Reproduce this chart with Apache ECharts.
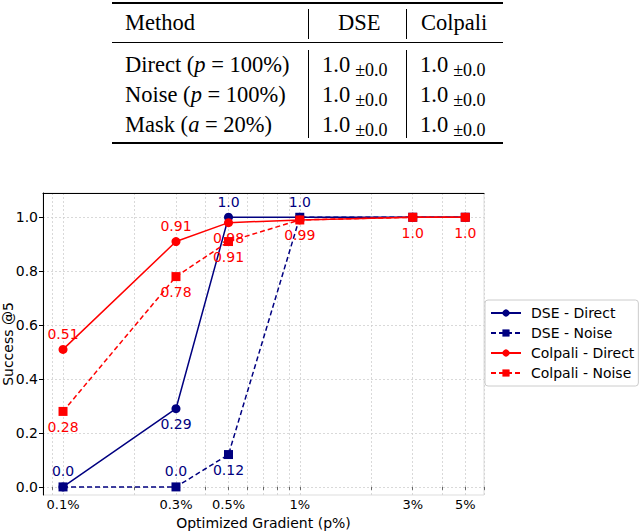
<!DOCTYPE html>
<html><head><meta charset="utf-8">
<script src="https://cdn.jsdelivr.net/npm/echarts@6/dist/echarts.min.js"></script>
<style>
html,body{margin:0;padding:0;background:#fff;}
#wrap{position:relative;width:640px;height:531px;overflow:hidden;}
#chart{position:absolute;left:0;top:0;width:640px;height:531px;}
.t{position:absolute;font-family:'Liberation Serif','DejaVu Serif',serif;font-size:22.5px;color:#000;white-space:nowrap;line-height:22px;}
.s{font-size:18px;position:relative;top:4px;margin-left:5px;}
.r{position:absolute;background:#000;}
</style>
</head><body>
<div id="wrap">
<div id="chart"></div>
<div class="r" style="left:112px;top:2px;width:391px;height:2px"></div>
<div class="r" style="left:112px;top:42px;width:391px;height:1px"></div>
<div class="r" style="left:112px;top:142px;width:391px;height:2px"></div>
<div class="r" style="left:308px;top:9px;width:1px;height:30px"></div>
<div class="r" style="left:406px;top:9px;width:1px;height:30px"></div>
<div class="r" style="left:308px;top:50px;width:1px;height:88px"></div>
<div class="r" style="left:406px;top:50px;width:1px;height:88px"></div>
<div class="t" style="left:125px;top:12px">Method</div>
<div class="t" style="left:338px;top:12px">DSE</div>
<div class="t" style="left:421px;top:12px">Colpali</div>
<div class="t" style="left:125px;top:54px">Direct (<i>p</i> = 100%)</div>
<div class="t" style="left:125px;top:84px">Noise (<i>p</i> = 100%)</div>
<div class="t" style="left:125px;top:114px">Mask (<i>a</i> = 20%)</div>
<div class="t" style="left:322px;top:54px">1.0<span class="s">±0.0</span></div>
<div class="t" style="left:420px;top:54px">1.0<span class="s">±0.0</span></div>
<div class="t" style="left:322px;top:84px">1.0<span class="s">±0.0</span></div>
<div class="t" style="left:420px;top:84px">1.0<span class="s">±0.0</span></div>
<div class="t" style="left:322px;top:114px">1.0<span class="s">±0.0</span></div>
<div class="t" style="left:420px;top:114px">1.0<span class="s">±0.0</span></div>
</div>
<script>
// ---- data ----
const xValues = [0.1, 0.3, 0.5, 1, 3, 5];
const xTickLabels = ['0.1%', '0.3%', '0.5%', '1%', '3%', '5%'];
const xGridValues = [0.09, 0.1, 0.2, 0.3, 0.4, 0.5, 0.6, 0.7, 0.8, 0.9, 1, 2, 3, 4, 5, 6];
const yTicks = [0, 0.2, 0.4, 0.6, 0.8, 1.0];
const seriesNames = ['DSE - Direct', 'DSE - Noise', 'Colpali - Direct', 'Colpali - Noise'];
const dseDirect = [0.0, 0.29, 1.0, 1.0, 1.0, 1.0];
const dseNoise = [0.0, 0.0, 0.12, 1.0, 1.0, 1.0];
const colpaliDirect = [0.51, 0.91, 0.98, 0.99, 1.0, 1.0];
const colpaliNoise = [0.28, 0.78, 0.91, 0.99, 1.0, 1.0];

// ---- style config ----
const NAVY = '#000080', RED = '#ff0000';
const FONT = 'DejaVu Sans';
const FS = 14;
const labelPlacement = {
  dseDirect: ['top', 'bottom', 'top', 'top', null, null],
  dseNoise: [null, 'top', 'bottom', null, null, null],
  colpaliDirect: ['top', 'top', 'bottom', null, null, null],
  colpaliNoise: ['bottom', 'bottom', 'bottom', 'bottom', 'bottom', 'bottom']
};
function fmt(v) { return (v % 1 === 0) ? v.toFixed(1) : String(v); }
function xLabel(v) {
  let best = 0, bd = Infinity;
  xValues.forEach((t, i) => { const d = Math.abs(Math.log(v) - Math.log(t)); if (d < bd) { bd = d; best = i; } });
  return xTickLabels[best];
}
function mk(name, vals, labs, color, symbol, dashed, z) {
  return {
    name, type: 'line', xAxisIndex: 0, yAxisIndex: 0, z,
    data: vals.map((v, i) => ({
      value: [xValues[i], v],
      label: labs[i] ? { show: true, position: labs[i] } : { show: false }
    })),
    symbol, symbolSize: 9, showSymbol: true,
    lineStyle: { color, width: 1.5, type: dashed ? [5, 3] : 'solid' },
    itemStyle: { color },
    label: { color, fontSize: FS, fontFamily: FONT, distance: 4, formatter: p => fmt(p.value[1]) },
    emphasis: { disabled: true },
    animation: false
  };
}

const chart = echarts.init(document.getElementById('chart'), null, { renderer: 'svg' });
chart.setOption({
  animation: false,
  textStyle: { fontFamily: FONT },
  grid: { left: 43, right: 156, top: 193, bottom: 36, outerBoundsMode: 'none', containLabel: false,
          show: true, borderColor: '#dddddd', borderWidth: 1, backgroundColor: 'transparent' },
  legend: {
    data: seriesNames, orient: 'vertical', left: 485, top: 300,
    itemWidth: 30, itemHeight: 9, itemGap: 6,
    padding: [6, 4, 6, 5],
    borderColor: '#cccccc', borderWidth: 1, borderRadius: 3,
    textStyle: { fontSize: FS, fontFamily: FONT, color: '#000', padding: [0, 0, 0, 5] }
  },
  xAxis: [{
    type: 'log', position: 'bottom', min: 0.0823, max: 6.0,
    name: 'Optimized Gradient (p%)', nameLocation: 'middle', nameGap: 21, nameMoveOverlap: false,
    nameTextStyle: { fontSize: FS, fontFamily: FONT, color: '#000' },
    axisLine: { show: false },
    axisTick: { show: true, customValues: xGridValues, length: 3, lineStyle: { color: '#666' } },
    minorTick: { show: false },
    axisLabel: { show: true, customValues: xValues, formatter: xLabel, fontSize: 13, fontFamily: FONT, color: '#000', margin: 3 },
    splitLine: { show: true, lineStyle: { color: '#cfcfcf', type: [2, 2], width: 0.8 } }
  }, {
    type: 'log', position: 'top', min: 0.0823, max: 6.0,
    axisLine: { show: true, lineStyle: { color: '#000', width: 1 } },
    axisTick: { show: false }, axisLabel: { show: false }, splitLine: { show: false }
  }],
  yAxis: {
    type: 'value', min: -0.03, max: 1.09,
    name: 'Success @5', nameLocation: 'middle', nameRotate: 90, nameGap: 28, nameMoveOverlap: false,
    nameTextStyle: { fontSize: FS, fontFamily: FONT, color: '#000' },
    axisLine: { show: true, lineStyle: { color: '#000', width: 1 } },
    axisTick: { show: true, customValues: yTicks, length: 4, lineStyle: { color: '#000' } },
    axisLabel: { show: true, customValues: yTicks, formatter: v => v.toFixed(1), fontSize: FS, fontFamily: FONT, color: '#000', margin: 5 },
    splitLine: { show: true, lineStyle: { color: '#cfcfcf', type: [2, 2], width: 0.8 } }
  },
  series: [
    mk(seriesNames[0], dseDirect, labelPlacement.dseDirect, NAVY, 'circle', false, 2),
    mk(seriesNames[1], dseNoise, labelPlacement.dseNoise, NAVY, 'rect', true, 3),
    mk(seriesNames[2], colpaliDirect, labelPlacement.colpaliDirect, RED, 'circle', false, 4),
    mk(seriesNames[3], colpaliNoise, labelPlacement.colpaliNoise, RED, 'rect', true, 5)
  ]
});
</script>
</body></html>
